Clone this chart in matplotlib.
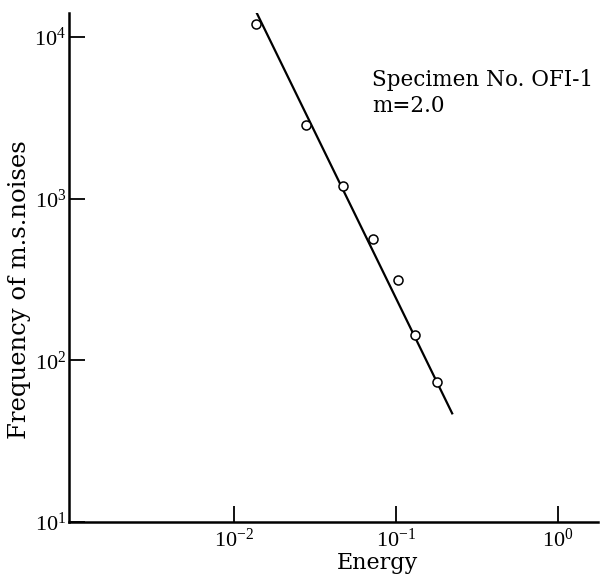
import matplotlib
matplotlib.use("Agg")
import matplotlib.pyplot as plt

# Data
energy = [0.0137, 0.0278, 0.0471, 0.0721, 0.1028, 0.131, 0.179]
frequency = [12050, 2845, 1191, 560, 316, 144, 73.6]
fit_energy = [0.0136, 0.222]
fit_frequency = [14500, 47]
xticks = [1e-2, 1e-1, 1e0]
xtick_labels = [r"$\mathregular{10^{-2}}$", r"$\mathregular{10^{-1}}$", r"$\mathregular{10^{0}}$"]
yticks = [1e1, 1e2, 1e3, 1e4]
ytick_labels = [r"$\mathregular{10^{1}}$", r"$\mathregular{10^{2}}$", r"$\mathregular{10^{3}}$", r"$\mathregular{10^{4}}$"]

plt.rcParams['font.family'] = ['Liberation Serif', 'DejaVu Serif']
plt.rcParams['mathtext.default'] = 'regular'
label_font = ['DejaVu Serif', 'Liberation Serif']

fig = plt.figure(figsize=(6.03, 5.77), dpi=100)
ax = fig.add_axes([69/603, 1 - 522/577, (598-69)/603, (522-13)/577])

ax.plot(fit_energy, fit_frequency, color='black', lw=1.6)
ax.plot(energy, frequency, linestyle='none', marker='o', ms=6.5,
        mfc='white', mec='black', mew=1.1)

ax.set_xscale('log')
ax.set_yscale('log')
ax.set_xlim(10**-3.02, 10**0.247)
ax.set_ylim(10**1.0, 10**4.149)

ax.set_xticks(xticks)
ax.set_xticklabels(xtick_labels)
ax.set_yticks(yticks)
ax.set_yticklabels(ytick_labels)
ax.minorticks_off()

for s in ['top', 'right']:
    ax.spines[s].set_visible(False)
for s in ['left', 'bottom']:
    ax.spines[s].set_linewidth(1.8)

ax.tick_params(axis='both', direction='in', length=11.5, width=1.3, labelsize=16)
ax.tick_params(axis='x', pad=5)
ax.tick_params(axis='y', pad=2)

ax.set_xlabel('Energy', fontsize=16, family=label_font)
ax.xaxis.set_label_coords(0.584, -0.058)
ax.set_ylabel('Frequency of m.s.noises', fontsize=17.5, family=label_font)
ax.yaxis.set_label_coords(-0.072, 0.456)

ax.text((372-69)/529, (522-80)/509, 'Specimen No. OFI-1', transform=ax.transAxes,
        fontsize=15.5, ha='left', va='center', family=label_font)
ax.text((372-69)/529, (522-106)/509, 'm=2.0', transform=ax.transAxes,
        fontsize=15.5, ha='left', va='center', family=label_font)

fig.savefig('out.png', dpi=100)
